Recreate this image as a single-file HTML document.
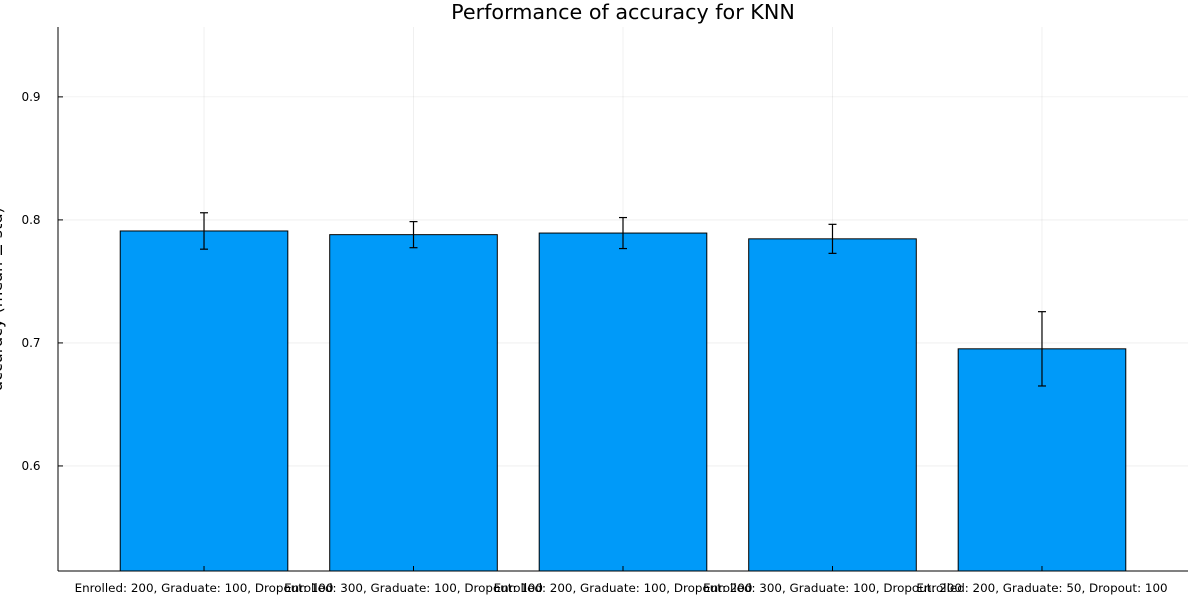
<!DOCTYPE html>
<html><head><meta charset="utf-8"><style>
html,body{margin:0;padding:0;background:#fff;}
svg{display:block;font-family:"DejaVu Sans","Liberation Sans",sans-serif;}
</style></head><body>
<svg id="chart" width="1200" height="600" viewBox="0 0 1200 600">
<text x="623" y="19" text-anchor="middle" font-size="20.7" fill="#000">Performance of accuracy for KNN</text>
<text transform="translate(2,299) rotate(-90)" text-anchor="middle" font-size="16" fill="#000">accuracy (mean ± std)</text>
<g id="grid"></g><g id="bars"></g><g id="errs"></g><g id="axes"></g>
</svg>
<script>
const categories = ["Enrolled: 200, Graduate: 100, Dropout: 100","Enrolled: 300, Graduate: 100, Dropout: 100","Enrolled: 200, Graduate: 100, Dropout: 200","Enrolled: 300, Graduate: 100, Dropout: 200","Enrolled: 200, Graduate: 50, Dropout: 100"];
const means = [0.791, 0.788, 0.7893, 0.7846, 0.6952];
const stds = [0.0148, 0.0106, 0.0126, 0.0118, 0.0302];
const yTicks = [0.6, 0.7, 0.8, 0.9];
const yTickLabels = ["0.6","0.7","0.8","0.9"];

const NS="http://www.w3.org/2000/svg";
const L=58,R=1188,T=27,B=571;
const yMin=0.5146,yMax=0.9568;
function y(v){return B-(v-yMin)/(yMax-yMin)*(B-T);}
const step=(R-L)/(categories.length-1+2*0.697);
function x(i){return L+step*(0.697+i);}
const bw=step*0.8;
function mk(tag,attrs,parent){const e=document.createElementNS(NS,tag);for(const k in attrs)e.setAttribute(k,attrs[k]);parent.appendChild(e);return e;}
const grid=document.getElementById('grid'),bars=document.getElementById('bars'),errs=document.getElementById('errs'),axes=document.getElementById('axes');
yTicks.forEach((t,i)=>{
 const g=mk('line',{x1:L,x2:R,y1:y(t),y2:y(t),stroke:'#000','stroke-opacity':0.1,'stroke-width':0.6},grid);
 
 
 const tk=mk('line',{x1:L,x2:L+5,y1:y(t),y2:y(t),stroke:'#000','stroke-width':1},axes);
 
 
 const lb=mk('text',{x:L-27,y:y(t)+4,'text-anchor':'middle','font-size':12},axes);
 lb.textContent=yTickLabels[i];
 
 
});
categories.forEach((c,i)=>{
 const g=mk('line',{x1:x(i),x2:x(i),y1:T,y2:B,stroke:'#000','stroke-opacity':0.1,'stroke-width':0.6},grid);
 
 
 const r=mk('rect',{x:x(i)-bw/2,y:y(means[i]),width:bw,height:B-y(means[i]),fill:'#009af9',stroke:'#000','stroke-width':1},bars);
 
 
 const e=mk('g',{stroke:'#000','stroke-width':1.2},errs);
 
 
 const hi=y(means[i]+stds[i]),lo=y(means[i]-stds[i]);
 mk('line',{x1:x(i),x2:x(i),y1:hi,y2:lo},e);
 mk('line',{x1:x(i)-4,x2:x(i)+4,y1:hi,y2:hi},e);
 mk('line',{x1:x(i)-4,x2:x(i)+4,y1:lo,y2:lo},e);
 const tk=mk('line',{x1:x(i),x2:x(i),y1:B,y2:B-5,stroke:'#000','stroke-width':1},axes);
 
 
 const lb=mk('text',{x:x(i),y:B+21,'text-anchor':'middle','font-size':11.9},axes);
 lb.textContent=c;
 
 
});
const ax=mk('line',{x1:L,x2:L,y1:T,y2:B,stroke:'#000','stroke-width':1},axes);


const bx=mk('line',{x1:L,x2:R,y1:B,y2:B,stroke:'#000','stroke-width':1},axes);


</script>
</body></html>
